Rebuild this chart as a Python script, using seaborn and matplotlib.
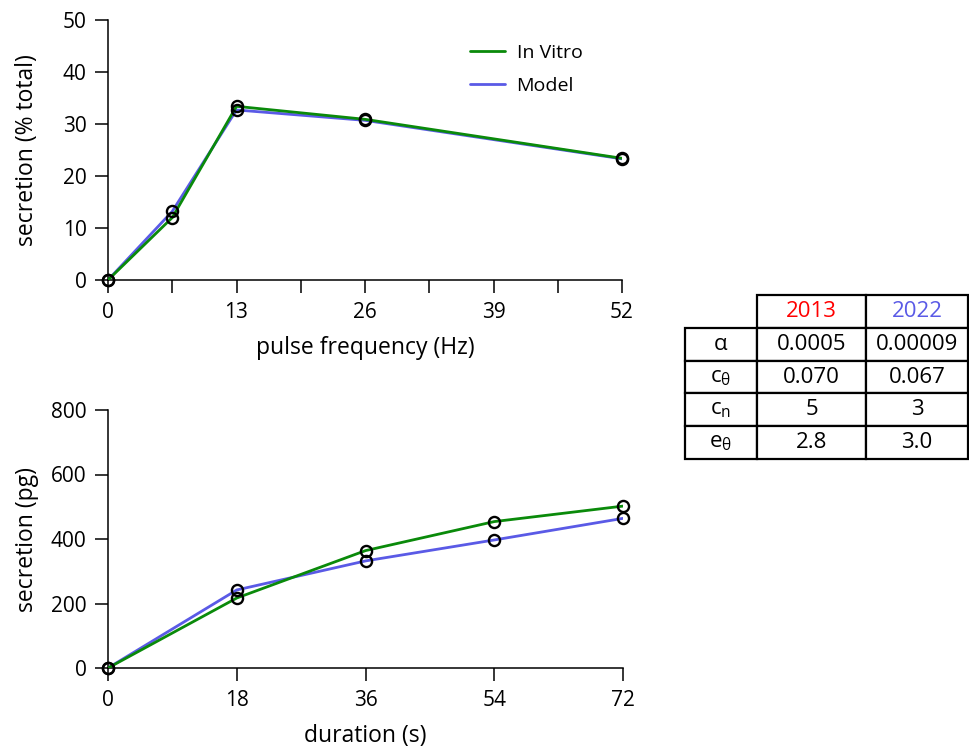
import numpy as np
import pandas as pd
import matplotlib
matplotlib.use("Agg")
import matplotlib.pyplot as plt
import seaborn as sns

# ---- data ----
freq = [0, 6.5, 13, 26, 52]
invitro_freq = [0, 12.0, 33.4, 30.9, 23.4]
model_freq = [0, 13.2, 32.7, 30.7, 23.3]

duration = [0, 18, 36, 54, 72]
invitro_dur = [0, 217, 364, 454, 502]
model_dur = [0, 242, 332, 397, 464]

freq_ticks = [0, 13, 26, 39, 52]
freq_minor = [6.5, 19.5, 32.5, 45.5]
freq_yticks = [0, 10, 20, 30, 40, 50]
dur_ticks = [0, 18, 36, 54, 72]
dur_yticks = [0, 200, 400, 600, 800]

table_cols = ["2013", "2022"]
table_rows = [r"$\mathregular{\alpha}$", r"$\mathregular{c_{\theta}}$",
              r"$\mathregular{c_{n}}$", r"$\mathregular{e_{\theta}}$"]
table_vals = [["0.0005", "0.00009"], ["0.070", "0.067"], ["5", "3"], ["2.8", "3.0"]]

GREEN = "#0a8a0a"
BLUE = "#5a5ae6"
RED = "#ff0000"

sns.set_style("ticks")
plt.rcParams["font.family"] = ["Open Sans", "DejaVu Sans"]
plt.rcParams["mathtext.fontset"] = "custom"
plt.rcParams["mathtext.rm"] = "Open Sans"
plt.rcParams["mathtext.it"] = "Open Sans"
for k in ["text.color", "axes.labelcolor", "xtick.color", "ytick.color", "axes.edgecolor"]:
    plt.rcParams[k] = "black"

fig = plt.figure(figsize=(9.70, 7.47), dpi=100)
ax1 = fig.add_axes([108/970, 1-280/747, (622-108)/970, (280-20)/747])
ax2 = fig.add_axes([108/970, 1-668/747, (623-108)/970, (668-410)/747])

FS = 15
LFS = 16.5
LW = 2.0

def style(ax):
    sns.despine(ax=ax)
    for s in ["left", "bottom"]:
        ax.spines[s].set_linewidth(1.1)
        ax.spines[s].set_color("black")
    ax.tick_params(which="both", direction="out", length=9.5, width=1.1,
                   labelsize=FS, colors="black", pad=6)

df1 = pd.DataFrame({"x": freq, "invitro": invitro_freq, "model": model_freq})
sns.lineplot(data=df1, x="x", y="model", ax=ax1, color=BLUE, lw=LW, label="Model", zorder=2)
sns.lineplot(data=df1, x="x", y="invitro", ax=ax1, color=GREEN, lw=LW, label="In Vitro", zorder=3)
for col in ["model", "invitro"]:
    sns.lineplot(data=df1, x="x", y=col, ax=ax1, linestyle="none", marker="o",
                 markersize=8, markerfacecolor="none", markeredgecolor="black",
                 markeredgewidth=1.7, legend=False, clip_on=False, zorder=4)
ax1.set_xlim(0, 52)
ax1.set_ylim(0, 50)
ax1.set_xticks(freq_ticks)
ax1.set_xticks(freq_minor, minor=True)
ax1.set_yticks(freq_yticks)
ax1.set_xlabel("pulse frequency (Hz)", fontsize=LFS, labelpad=10)
ax1.set_ylabel("secretion (% total)", fontsize=LFS)
ax1.yaxis.set_label_coords((39-108)/514, 0.5)
style(ax1)
h, l = ax1.get_legend_handles_labels()
ax1.legend(h[::-1], l[::-1], loc="upper left", bbox_to_anchor=(0.67, 0.975),
           frameon=False, fontsize=FS-1, handlelength=1.8, handletextpad=0.6,
           labelspacing=0.75)

df2 = pd.DataFrame({"x": duration, "invitro": invitro_dur, "model": model_dur})
sns.lineplot(data=df2, x="x", y="model", ax=ax2, color=BLUE, lw=LW, legend=False, zorder=2)
sns.lineplot(data=df2, x="x", y="invitro", ax=ax2, color=GREEN, lw=LW, legend=False, zorder=3)
for col in ["model", "invitro"]:
    sns.lineplot(data=df2, x="x", y=col, ax=ax2, linestyle="none", marker="o",
                 markersize=8, markerfacecolor="none", markeredgecolor="black",
                 markeredgewidth=1.7, legend=False, clip_on=False, zorder=4)
ax2.set_xlim(0, 72)
ax2.set_ylim(0, 800)
ax2.set_xticks(dur_ticks)
ax2.set_yticks(dur_yticks)
ax2.set_xlabel("duration (s)", fontsize=LFS, labelpad=10)
ax2.set_ylabel("secretion (pg)", fontsize=LFS)
ax2.yaxis.set_label_coords((39-108)/515, 0.5)
style(ax2)

# ---- table ----
axt = fig.add_axes([685/970, 1-459/747, (968-685)/970, (459-295)/747])
axt.axis("off")
cell_text = [[""] + table_cols] + [[r] + v for r, v in zip(table_rows, table_vals)]
tbl = axt.table(cellText=cell_text, cellLoc="center", bbox=[0, 0, 1, 1],
                colWidths=[72/283, 109/283, 102/283])
tbl.auto_set_font_size(False)
tbl.set_fontsize(16)
for (r, c), cell in tbl.get_celld().items():
    cell.set_linewidth(1.6)
    cell.set_edgecolor("black")
    cell.get_text().set_color("black")
    if r == 0 and c == 0:
        cell.visible_edges = ""
    if r == 0 and c == 1:
        cell.get_text().set_color(RED)
    if r == 0 and c == 2:
        cell.get_text().set_color(BLUE)

fig.savefig("out.png", dpi=100)
